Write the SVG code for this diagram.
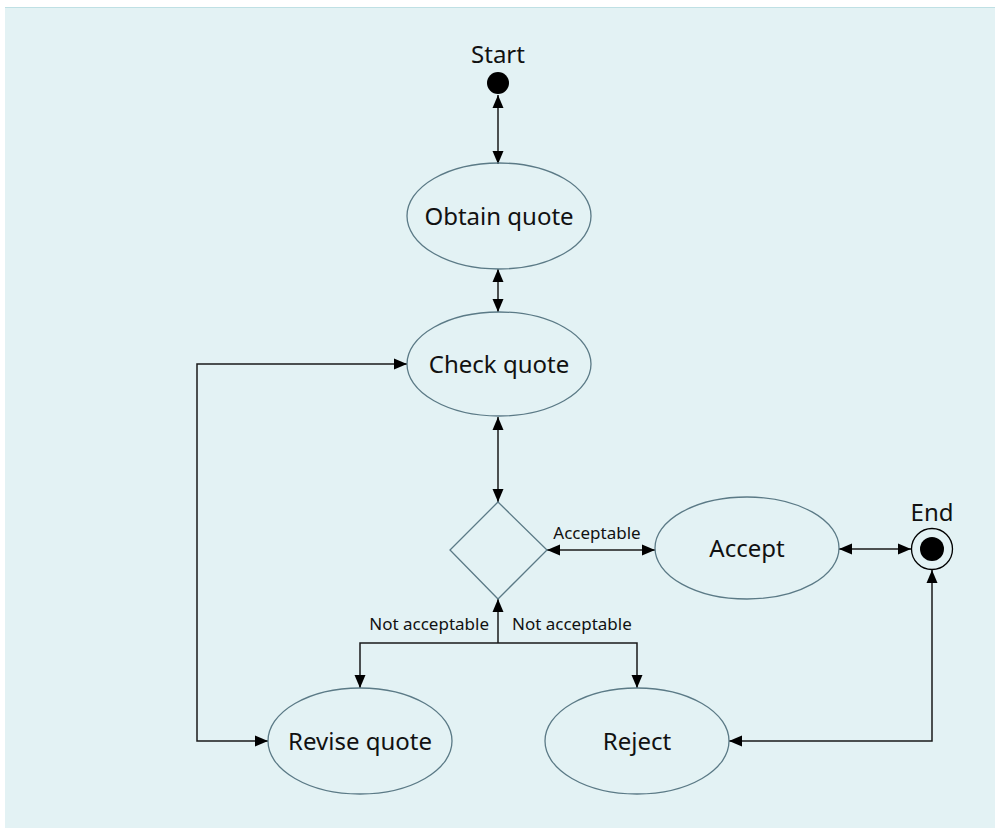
<svg xmlns="http://www.w3.org/2000/svg" width="995" height="828" viewBox="0 0 995 828">
  <style>
    .state { fill: none; stroke: #5b7a86; stroke-width: 1.3; }
    .label { font-family: "Noto Sans", "Open Sans", sans-serif; font-size: 24px; fill: #111; text-anchor: middle; }
    .edge-label { font-family: "Noto Sans", "Open Sans", sans-serif; font-size: 17px; fill: #111; }
    .edge { fill: none; stroke: #1a1a1a; stroke-width: 1.5; marker-end: url(#arrow); }
    .both { marker-start: url(#arrow); }
  </style>
  <defs>
    <marker id="arrow" markerUnits="userSpaceOnUse" markerWidth="13" markerHeight="12" refX="13" refY="6" orient="auto-start-reverse">
      <path d="M0,0.5 L13,6 L0,11.5 z" fill="#000"/>
    </marker>
  </defs>

  <!-- canvas -->
  <rect x="5" y="7" width="990" height="821" fill="#e3f2f4"/>
  <line x1="5" y1="7.5" x2="995" y2="7.5" stroke="#bfe0e4" stroke-width="1"/>

  <!-- connectors -->
  <g id="connectors">
    <path class="edge both" d="M498,95 L498,164"/>
    <path class="edge both" d="M498,269 L498,312"/>
    <path class="edge both" d="M498,417 L498,502"/>
    <path class="edge both" d="M547,550 L655,550"/>
    <path class="edge both" d="M839,549 L911,549"/>
    <path class="edge" d="M498,643 L498,599"/>
    <path class="edge" d="M498,643 L360,643 L360,688"/>
    <path class="edge" d="M498,643 L637,643 L637,688"/>
    <path class="edge both" d="M407,364 L197,364 L197,741 L268,741"/>
    <path class="edge both" d="M729,741 L932,741 L932,570"/>
    <text class="edge-label" x="597" y="539" text-anchor="middle">Acceptable</text>
    <text class="edge-label" x="489" y="630" text-anchor="end">Not acceptable</text>
    <text class="edge-label" x="512" y="630">Not acceptable</text>
  </g>

  <!-- nodes -->
  <g id="start">
    <circle cx="498" cy="83" r="11" fill="#000"/>
    <text class="label" x="498" y="63">Start</text>
  </g>
  <g id="obtain-quote">
    <ellipse class="state" cx="499" cy="216" rx="92" ry="53"/>
    <text class="label" x="499" y="225">Obtain quote</text>
  </g>
  <g id="check-quote">
    <ellipse class="state" cx="499" cy="364" rx="92" ry="52"/>
    <text class="label" x="499" y="373">Check quote</text>
  </g>
  <g id="decision">
    <polygon class="state" points="498,502 547,550 498,599 450,550"/>
  </g>
  <g id="accept">
    <ellipse class="state" cx="747" cy="548" rx="92" ry="51"/>
    <text class="label" x="747" y="557">Accept</text>
  </g>
  <g id="end">
    <circle cx="932" cy="549" r="20.5" fill="#e3f2f4" stroke="#000" stroke-width="1.3"/>
    <circle cx="932" cy="549" r="12" fill="#000"/>
    <text class="label" x="932" y="521">End</text>
  </g>
  <g id="revise-quote">
    <ellipse class="state" cx="360" cy="741" rx="92" ry="53"/>
    <text class="label" x="360" y="750">Revise quote</text>
  </g>
  <g id="reject">
    <ellipse class="state" cx="637" cy="741" rx="92" ry="53"/>
    <text class="label" x="637" y="750">Reject</text>
  </g>
</svg>
